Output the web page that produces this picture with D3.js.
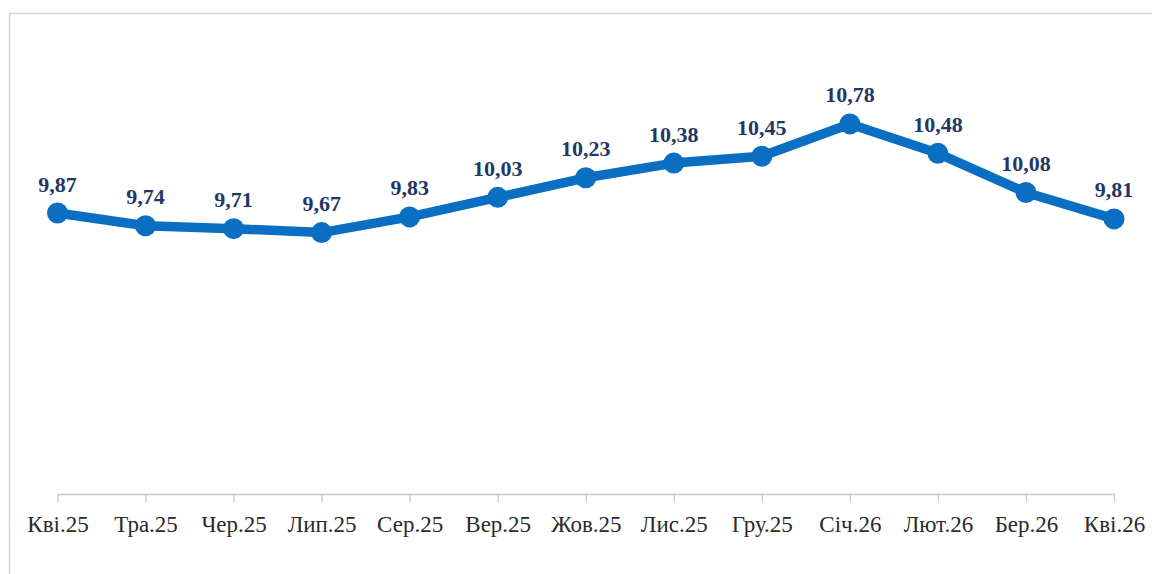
<!DOCTYPE html>
<html>
<head>
<meta charset="utf-8">
<script src="https://cdn.jsdelivr.net/npm/d3@7"></script>
<style>
  html, body { margin: 0; padding: 0; background: #fff; }
  svg { display: block; }
</style>
</head>
<body>
<svg id="chart" width="1152" height="574"></svg>
<script>
const categories = ["Кві.25","Тра.25","Чер.25","Лип.25","Сер.25","Вер.25","Жов.25","Лис.25","Гру.25","Січ.26","Лют.26","Бер.26","Кві.26"];
const values = [9.87, 9.74, 9.71, 9.67, 9.83, 10.03, 10.23, 10.38, 10.45, 10.78, 10.48, 10.08, 9.81];
const valueLabels = ["9,87","9,74","9,71","9,67","9,83","10,03","10,23","10,38","10,45","10,78","10,48","10,08","9,81"];

const FONT = '"Liberation Serif"';
const svg = d3.select("#chart");

// chart frame
svg.append("rect")
  .attr("x", 9.5).attr("y", 13.5)
  .attr("width", 1200).attr("height", 600)
  .attr("fill", "#fff")
  .attr("stroke", "#d4d4d4")
  .attr("stroke-width", 1.5);

const x = d3.scalePoint().domain(categories).range([57.5, 1114]);
const y = d3.scaleLinear().domain([7, 11]).range([494, 102.4]);

// x axis
const axis = d3.axisBottom(x).tickSize(8).tickSizeOuter(0).tickPadding(14);
const gx = svg.append("g").attr("transform", "translate(0,494)").call(axis);
gx.attr("font-family", null).attr("font-size", null);
gx.select(".domain").attr("stroke", "#c8c8c8").attr("stroke-width", 1.3);
gx.selectAll(".tick line").attr("stroke", "#c8c8c8").attr("stroke-width", 1.3);
gx.selectAll(".tick text")
  .style("font-family", FONT)
  .style("font-size", "23px")
  .attr("fill", "#2b2b2b");

const data = categories.map((c, i) => ({c, v: values[i], l: valueLabels[i]}));

const line = d3.line().x(d => x(d.c)).y(d => y(d.v));
svg.append("path")
  .datum(data)
  .attr("d", line)
  .attr("fill", "none")
  .attr("stroke", "#0a6fc2")
  .attr("stroke-width", 9.5)
  .attr("stroke-linejoin", "round");

svg.selectAll("circle.pt")
  .data(data)
  .enter().append("circle")
  .attr("class", "pt")
  .attr("cx", d => x(d.c))
  .attr("cy", d => y(d.v))
  .attr("r", 10.5)
  .attr("fill", "#0a6fc2");

svg.selectAll("text.lbl")
  .data(data)
  .enter().append("text")
  .attr("class", "lbl")
  .attr("x", d => x(d.c))
  .attr("y", d => y(d.v) - 21.5)
  .attr("text-anchor", "middle")
  .style("font-family", FONT)
  .style("font-weight", "bold")
  .style("font-size", "22px")
  .attr("fill", "#1f3864")
  .text(d => d.l);
</script>
</body>
</html>
